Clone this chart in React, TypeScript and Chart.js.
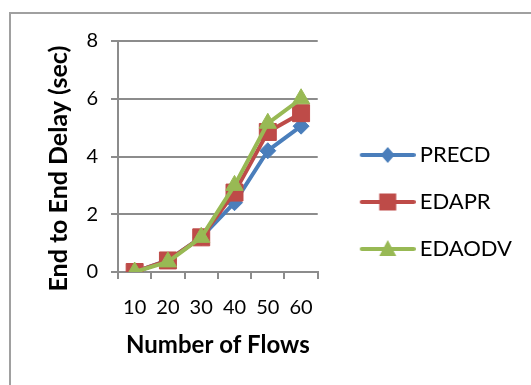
import React, { useEffect, useRef } from "react";
import { Chart, registerables } from "chart.js";

Chart.register(...registerables);

const categories = ["10", "20", "30", "40", "50", "60"];
const precdValues = [0, 0.4, 1.2, 2.4, 4.2, 5.05];
const edaprValues = [0, 0.4, 1.2, 2.75, 4.85, 5.5];
const edaodvValues = [0, 0.35, 1.2, 3.0, 5.15, 6.0];
const seriesNames = ["PRECD", "EDAPR", "EDAODV"];
const seriesColors = ["#4A7EBB", "#BE4B48", "#98B954"];
const yMin = 0;
const yMax = 8;
const yStep = 2;
const xTitle = "Number of Flows";
const yTitle = "End to End Delay (sec)";

const FONT = "Lato, 'Open Sans', sans-serif";

function makeLegendIcon(color: string, kind: string): HTMLCanvasElement {
  const c = document.createElement("canvas");
  c.width = 80;
  c.height = 24;
  const ctx = c.getContext("2d")!;
  const cy = 12;
  ctx.strokeStyle = color;
  ctx.lineWidth = 4;
  ctx.lineCap = "round";
  ctx.beginPath();
  ctx.moveTo(26, cy);
  ctx.lineTo(78, cy);
  ctx.stroke();
  ctx.fillStyle = color;
  const cx = 52;
  ctx.beginPath();
  if (kind === "diamond") {
    ctx.moveTo(cx, cy - 8);
    ctx.lineTo(cx + 7, cy);
    ctx.lineTo(cx, cy + 8);
    ctx.lineTo(cx - 7, cy);
  } else if (kind === "square") {
    ctx.rect(cx - 8.5, cy - 8.5, 17, 17);
  } else {
    ctx.moveTo(cx, cy - 9);
    ctx.lineTo(cx + 8.5, cy + 7);
    ctx.lineTo(cx - 8.5, cy + 7);
  }
  ctx.closePath();
  ctx.fill();
  return c;
}

export default function App() {
  const ref = useRef<HTMLCanvasElement | null>(null);

  useEffect(() => {
    if (!ref.current) return;
    const icons = [
      makeLegendIcon(seriesColors[0], "diamond"),
      makeLegendIcon(seriesColors[1], "square"),
      makeLegendIcon(seriesColors[2], "triangle"),
    ];
    const base = (i: number, data: number[], pointStyle: string, radius: number) => ({
      label: seriesNames[i],
      data,
      borderColor: seriesColors[i],
      backgroundColor: seriesColors[i],
      pointBackgroundColor: seriesColors[i],
      pointBorderColor: seriesColors[i],
      pointBorderWidth: 1,
      borderWidth: 4,
      borderJoinStyle: "round" as const,
      borderCapStyle: "round" as const,
      pointStyle,
      pointRadius: radius,
      tension: 0,
      fill: false,
    });
    // draw order: EDAODV on top
    const datasets = [
      base(2, edaodvValues, "triangle", 10),
      base(1, edaprValues, "rect", 12),
      base(0, precdValues, "rectRot", 8),
    ];
    const chart = new Chart(ref.current, {
      type: "line",
      data: { labels: categories, datasets },
      options: {
        animation: false,
        responsive: false,
        devicePixelRatio: 1,
        layout: { padding: { left: 34, top: 41, right: 9, bottom: 22 } },
        plugins: {
          tooltip: { enabled: false },
          legend: {
            position: "right",
            maxWidth: 400,
            labels: {
              usePointStyle: true,
              pointStyleWidth: 66,
              padding: 25,
              color: "#000",
              font: { family: FONT, size: 22 },
              generateLabels: () =>
                seriesNames.map((name, i) => ({
                  text: name,
                  pointStyle: icons[i],
                  fillStyle: seriesColors[i],
                  strokeStyle: seriesColors[i],
                  lineWidth: 0,
                  hidden: false,
                  datasetIndex: 2 - i,
                })),
            },
          },
        },
        scales: {
          x: {
            offset: true,
            grid: {
              offset: true,
              drawOnChartArea: false,
              drawTicks: true,
              tickLength: 7,
              color: "#8c8c8c",
              lineWidth: 2,
            },
            border: { color: "#8c8c8c", width: 2 },
            ticks: {
              color: "#000",
              padding: 17,
              maxRotation: 0,
              autoSkip: false,
              font: { family: FONT, size: 20 },
            },
            title: {
              display: true,
              text: xTitle,
              color: "#000",
              font: { family: FONT, size: 24, weight: "bold" },
              padding: { top: 10, bottom: 3 },
            },
            afterFit: (s: any) => {
              s.height = 91;
            },
          },
          y: {
            min: yMin,
            max: yMax,
            ticks: {
              stepSize: yStep,
              color: "#000",
              padding: 13,
              font: { family: FONT, size: 20 },
            },
            grid: { color: "#8c8c8c", lineWidth: 2, tickLength: 7 },
            border: { color: "#8c8c8c", width: 2 },
            title: {
              display: true,
              text: yTitle + "    ",
              color: "#000",
              font: { family: FONT, size: 25, weight: "bold" },
              padding: { top: 10, bottom: 10 },
            },
            afterFit: (s: any) => {
              s.width = 84;
            },
          },
        },
      },
    });
    return () => chart.destroy();
  }, []);

  return (
    <div
      style={{
        position: "fixed",
        left: 0,
        top: 0,
        width: 531,
        height: 385,
        overflow: "hidden",
        background: "#fff",
      }}
    >
      <div
        style={{
          position: "absolute",
          left: 9,
          top: 12,
          width: 700,
          height: 500,
          borderLeft: "2px solid #a0a0a0",
          borderTop: "2px solid #a0a0a0",
        }}
      />
      <canvas
        ref={ref}
        width={531}
        height={385}
        style={{ position: "absolute", left: 0, top: 0, width: 531, height: 385 }}
      />
    </div>
  );
}
